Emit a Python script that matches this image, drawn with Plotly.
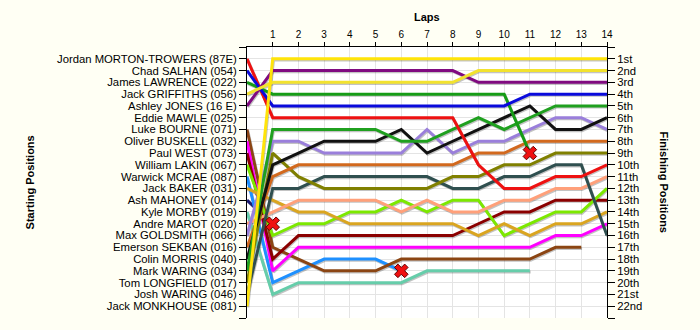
import plotly.graph_objects as go

# Lap numbers (0 = grid)
laps = list(range(15))

# Grid order, top to bottom
starters = [
    "Jordan MORTON-TROWERS (87E)", "Chad SALHAN (054)", "James LAWRENCE (022)",
    "Jack GRIFFITHS (056)", "Ashley JONES (16 E)", "Eddie MAWLE (025)",
    "Luke BOURNE (071)", "Oliver BUSKELL (032)", "Paul WEST (073)",
    "William LAKIN (067)", "Warwick MCRAE (087)", "Jack BAKER (031)",
    "Ash MAHONEY (014)", "Kyle MORBY (019)", "Andre MAROT (020)",
    "Max GOLDSMITH (066)", "Emerson SEKBAN (016)", "Colin MORRIS (040)",
    "Mark WARING (034)", "Tom LONGFIELD (017)", "Josh WARING (046)",
    "Jack MONKHOUSE (081)",
]

finish_labels = [
    "1st", "2nd", "3rd", "4th", "5th", "6th", "7th", "8th", "9th", "10th", "11th",
    "12th", "13th", "14th", "15th", "16th", "17th", "18th", "19th", "20th", "21st", "22nd",
]

# Running position at the end of each lap (index 0 = grid slot)
pos_monkhouse = [22, 1, 1, 1, 1, 1, 1, 1, 1, 1, 1, 1, 1, 1, 1]
pos_griffiths = [4, 3, 3, 3, 3, 3, 3, 3, 3, 2, 2, 2, 2, 2, 2]
pos_jones = [5, 2, 2, 2, 2, 2, 2, 2, 2, 3, 3, 3, 3, 3, 3]
pos_salhan = [2, 5, 5, 5, 5, 5, 5, 5, 5, 5, 5, 4, 4, 4, 4]
pos_lawrence = [3, 4, 4, 4, 4, 4, 4, 4, 4, 4, 4, 9]
pos_morton = [1, 6, 6, 6, 6, 6, 6, 6, 6, 10, 12, 12, 11, 11, 10]
pos_waring_m = [19, 7, 7, 7, 7, 7, 8, 8, 7, 6, 7, 6, 5, 5, 5]
pos_morris = [18, 10, 9, 8, 8, 8, 7, 9, 8, 7, 6, 5, 7, 7, 6]
pos_goldsmith = [16, 8, 8, 9, 9, 9, 9, 7, 9, 8, 8, 7, 6, 6, 7]
pos_sekban = [17, 11, 10, 10, 10, 10, 10, 10, 10, 9, 9, 8, 8, 8, 8]
pos_longfield = [20, 9, 11, 12, 12, 12, 12, 12, 11, 11, 10, 10, 9, 9, 9]
pos_waring_j = [21, 12, 12, 11, 11, 11, 11, 11, 12, 12, 11, 11, 10, 10, 16]
pos_marot = [15, 14, 13, 13, 13, 13, 14, 13, 14, 14, 13, 13, 12, 12, 11]
pos_baker = [12, 13, 14, 14, 15, 15, 15, 15, 15, 16, 15, 16, 15, 15, 14]
pos_lakin = [10, 16, 15, 15, 14, 14, 13, 14, 13, 13, 16, 15, 14, 14, 12]
pos_west = [9, 18, 16, 16, 16, 16, 16, 16, 16, 15, 14, 14, 13, 13, 13]
pos_buskell = [8, 19, 17, 17, 17, 17, 17, 17, 17, 17, 17, 17, 16, 16, 15]
pos_bourne = [7, 17, 18, 19, 19, 19, 18, 18, 18, 18, 18, 18, 17, 17]
pos_mcrae = [11, 20, 19, 18, 18, 18, 19]
pos_morby = [14, 21, 20, 20, 20, 20, 20, 19, 19, 19, 19, 19]
pos_mahoney = [13, 15]

# Drivers whose line ends with a retirement cross
retired = ["James LAWRENCE (022)", "Warwick MCRAE (087)", "Ash MAHONEY (014)"]

series = [
    ("Jack MONKHOUSE (081)", pos_monkhouse, "#FFE40A"),
    ("Jack GRIFFITHS (056)", pos_griffiths, "#F2E22E"),
    ("Ashley JONES (16 E)", pos_jones, "#800A80"),
    ("Chad SALHAN (054)", pos_salhan, "#0A0ADC"),
    ("James LAWRENCE (022)", pos_lawrence, "#169C16"),
    ("Jordan MORTON-TROWERS (87E)", pos_morton, "#EE1111"),
    ("Mark WARING (034)", pos_waring_m, "#1FA01F"),
    ("Colin MORRIS (040)", pos_morris, "#111111"),
    ("Max GOLDSMITH (066)", pos_goldsmith, "#9A7FDB"),
    ("Emerson SEKBAN (016)", pos_sekban, "#D2691E"),
    ("Tom LONGFIELD (017)", pos_longfield, "#808000"),
    ("Josh WARING (046)", pos_waring_j, "#2F4F4F"),
    ("Andre MAROT (020)", pos_marot, "#FFA07A"),
    ("Jack BAKER (031)", pos_baker, "#DAA520"),
    ("William LAKIN (067)", pos_lakin, "#7CE800"),
    ("Paul WEST (073)", pos_west, "#8B0000"),
    ("Oliver BUSKELL (032)", pos_buskell, "#FF00FF"),
    ("Luke BOURNE (071)", pos_bourne, "#8B4513"),
    ("Warwick MCRAE (087)", pos_mcrae, "#1E90FF"),
    ("Kyle MORBY (019)", pos_morby, "#66CDAA"),
    ("Ash MAHONEY (014)", pos_mahoney, "#191970"),
]

fig = go.Figure()

# soft drop shadows, nudged slightly right and down
for name, pos, color in series:
    fig.add_trace(go.Scatter(
        x=[l + 0.03 for l in laps[:len(pos)]], y=[p + 0.1 for p in pos],
        mode="lines", line=dict(color="rgba(40,40,40,0.28)", width=3),
        hoverinfo="skip", showlegend=False,
    ))

for name, pos, color in reversed(series):
    fig.add_trace(go.Scatter(
        x=laps[:len(pos)], y=pos, mode="lines", name=name,
        line=dict(color=color, width=3), showlegend=False,
    ))

# retirement crosses
rx, ry = [], []
for name, pos, color in series:
    if name in retired:
        rx.append(laps[len(pos) - 1])
        ry.append(pos[-1])
fig.add_trace(go.Scatter(
    x=rx, y=ry, mode="markers", showlegend=False,
    marker=dict(symbol="x", size=12, color="#F01010", line=dict(color="#600000", width=1)),
))

# invisible trace so the finishing-position axis is drawn
fig.add_trace(go.Scatter(x=[0], y=[1], yaxis="y2", mode="markers",
                         marker=dict(opacity=0), showlegend=False, hoverinfo="skip"))

rows = list(range(0, 24))
font = "Liberation Sans, Arial, sans-serif"

fig.update_layout(
    width=700, height=330,
    margin=dict(l=247, r=93, t=47, b=12),
    paper_bgcolor="#FFFFF4", plot_bgcolor="#FFFFFF",
    font=dict(family=font, size=11, color="#000000"),
    xaxis=dict(
        side="top", range=[0, 14], tickvals=list(range(1, 15)),
        ticks="outside", ticklen=4, tickcolor="#000000", tickfont=dict(size=10),
        showline=True, linecolor="#000000", linewidth=1, mirror=False,
        showgrid=True, gridcolor="#E4E4E4", gridwidth=1, zeroline=False,
    ),
    yaxis=dict(
        range=[23, 0], tickvals=rows,
        ticktext=[""] + starters + [""],
        ticks="outside", ticklen=7, tickcolor="#000000",
        showline=True, linecolor="#000000", linewidth=1,
        showgrid=True, gridcolor="#E4E4E4", gridwidth=1, zeroline=False,
        tickfont=dict(size=11.3),
    ),
    yaxis2=dict(
        overlaying="y", side="right", range=[23, 0], tickvals=rows,
        ticktext=[""] + finish_labels + [""],
        ticks="outside", ticklen=7, tickcolor="#000000",
        showline=True, linecolor="#000000", linewidth=1,
        showgrid=False, zeroline=False, tickfont=dict(size=11.3),
    ),
    annotations=[
        dict(text="<b>Laps</b>", x=0.5, y=1.111, xref="paper", yref="paper",
             showarrow=False, font=dict(size=11), xanchor="center", yanchor="middle"),
        dict(text="<b>Starting Positions</b>", x=-0.603, y=0.5, xref="paper", yref="paper",
             showarrow=False, textangle=-90, font=dict(size=11),
             xanchor="center", yanchor="middle"),
        dict(text="<b>Finishing Positions</b>", x=1.161, y=0.5, xref="paper", yref="paper",
             showarrow=False, textangle=90, font=dict(size=11),
             xanchor="center", yanchor="middle"),
    ],
)

fig.write_html("out.html")
